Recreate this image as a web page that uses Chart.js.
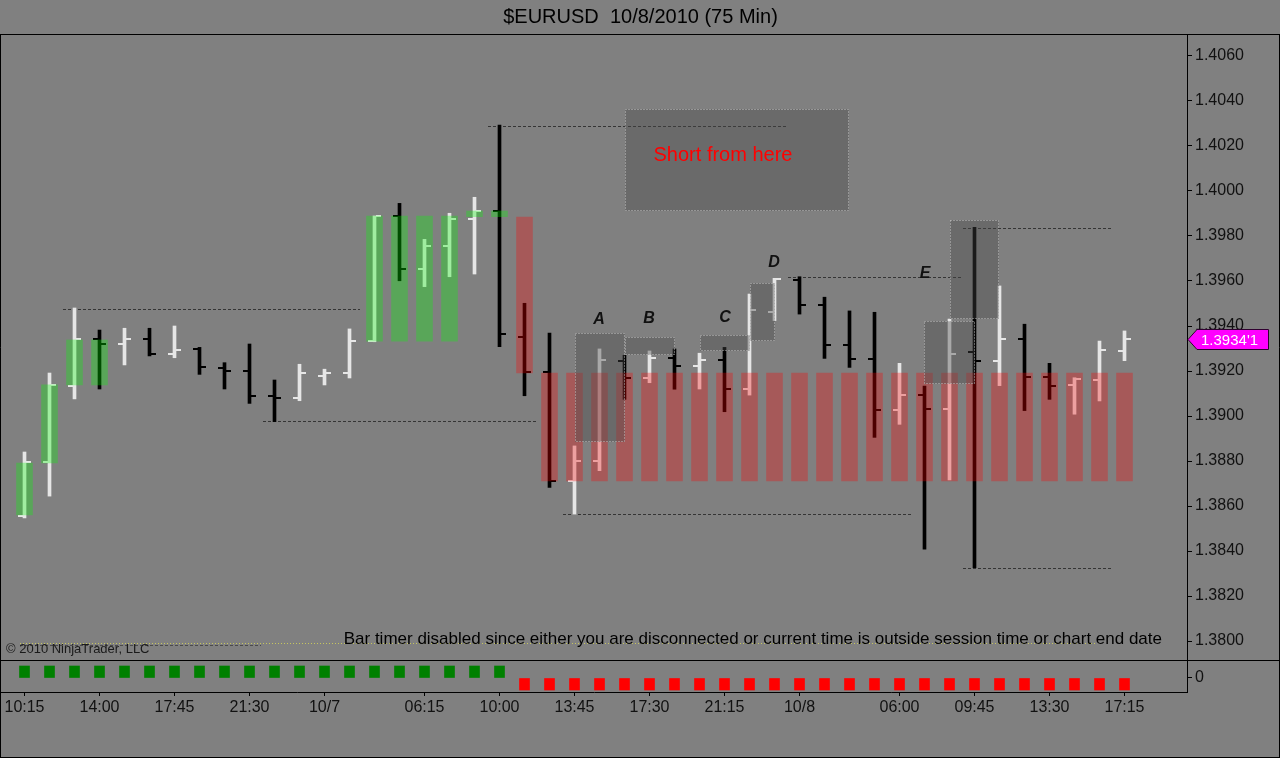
<!DOCTYPE html>
<html lang="en">
<head>
<meta charset="UTF-8">
<title>$EURUSD 10/8/2010 (75 Min)</title>
<style>
html, body { margin: 0; padding: 0; background: #808080; overflow: hidden; }
#page { position: relative; width: 1280px; height: 758px; }
#priceBox { position: absolute; left: 0; top: 0; width: 1280px; height: 661px; }
#signalBox { position: absolute; left: 0; top: 660px; width: 1280px; height: 98px; }
</style>
</head>
<body>
<div id="page">
  <div id="priceBox"><canvas id="priceChart"></canvas></div>
  <div id="signalBox"><canvas id="signalChart"></canvas></div>
</div>
<script src="https://cdn.jsdelivr.net/npm/chart.js@4.4.1/dist/chart.umd.min.js"></script>
<script>
// 75 minute bars, 10/6 10:15 .. 10/8 17:15
const categories = ['10:15','11:30','12:45','14:00','15:15','16:30','17:45','19:00','20:15','21:30',
  '22:45','00:00','01:15','02:30','03:45','05:00','06:15','07:30','08:45','10:00',
  '11:15','12:30','13:45','15:00','16:15','17:30','18:45','20:00','21:15','22:30',
  '23:45','01:00','02:15','03:30','04:45','06:00','07:15','08:30','09:45','11:00',
  '12:15','13:30','14:45','16:00','17:15'];
const tickIndex  = [0, 3, 6, 9, 12, 16, 19, 22, 25, 28, 31, 35, 38, 41, 44];
const tickLabels = ['10:15','14:00','17:45','21:30','10/7','06:15','10:00','13:45','17:30','21:15','10/8','06:00','09:45','13:30','17:15'];
const priceTicks = [1.3800, 1.3820, 1.3840, 1.3860, 1.3880, 1.3900, 1.3920, 1.3940, 1.3960, 1.3980, 1.4000, 1.4020, 1.4040, 1.4060];

const opens  = [1.38556,1.38796,1.39133,1.39342,1.39318,1.39342,1.39274,1.39296,1.39215,1.39200,
  1.39089,1.39079,1.39178,1.39190,1.39333,1.39889,1.39652,1.39756,1.39874,1.39911,
  1.39352,1.39194,1.38712,1.38799,1.39244,1.39168,1.39256,1.39224,1.39249,1.39120,
  1.39461,1.39604,1.39492,1.39314,1.39252,1.39025,1.39093,1.39030,1.39283,1.39243,
  1.39342,1.39175,1.39138,1.39160,1.39289];
const highs  = [1.38840,1.39191,1.39480,1.39382,1.39390,1.39390,1.39400,1.39305,1.39237,1.39320,
  1.39160,1.39230,1.39208,1.39387,1.39889,1.39945,1.39785,1.39901,1.39972,1.40293,
  1.39501,1.39368,1.38867,1.39298,1.39270,1.39289,1.39298,1.39279,1.39305,1.39542,
  1.39612,1.39619,1.39528,1.39467,1.39461,1.39234,1.39133,1.39431,1.39839,1.39578,
  1.39408,1.39234,1.39170,1.39333,1.39378];
const lows   = [1.38547,1.38644,1.39076,1.39120,1.39227,1.39267,1.39259,1.39185,1.39120,1.39056,
  1.38975,1.39068,1.39138,1.39169,1.39330,1.39601,1.39575,1.39619,1.39631,1.39308,
  1.39090,1.38683,1.38563,1.38757,1.39074,1.39148,1.39119,1.39120,1.39019,1.39093,
  1.39424,1.39453,1.39256,1.39216,1.38905,1.38963,1.38408,1.38716,1.38326,1.39135,
  1.39024,1.39074,1.39008,1.39067,1.39246];
const closes = [1.38796,1.39138,1.39342,1.39320,1.39342,1.39274,1.39292,1.39219,1.39200,1.39089,
  1.39081,1.39190,1.39190,1.39333,1.39889,1.39652,1.39756,1.39874,1.39911,1.39363,
  1.39194,1.38712,1.38799,1.39249,1.39168,1.39256,1.39224,1.39249,1.39120,1.39471,
  1.39608,1.39492,1.39314,1.39252,1.39025,1.39093,1.39030,1.39274,1.39243,1.39341,
  1.39172,1.39135,1.39163,1.39293,1.39341];

// highlighted zones laid over the bars
const zoneIndex = [0,1,2,3,14,15,16,17,18,19,20,21,22,23,24,25,26,27,28,29,30,31,32,33,34,35,36,37,38,39,40,41,42,43,44];
const zoneLow   = [1.38560,1.38791,1.39138,1.39138,1.39333,1.39333,1.39333,1.39333,1.39886,1.39886,1.39191,
  1.38712,1.38712,1.38712,1.38712,1.38712,1.38712,1.38712,1.38712,1.38712,1.38712,1.38712,1.38712,1.38712,
  1.38712,1.38712,1.38712,1.38712,1.38712,1.38712,1.38712,1.38712,1.38712,1.38712,1.38712];
const zoneHigh  = [1.38791,1.39138,1.39338,1.39338,1.39889,1.39889,1.39889,1.39889,1.39911,1.39911,1.39884,
  1.39191,1.39191,1.39191,1.39191,1.39191,1.39191,1.39191,1.39191,1.39191,1.39191,1.39191,1.39191,1.39191,
  1.39191,1.39191,1.39191,1.39191,1.39191,1.39191,1.39191,1.39191,1.39191,1.39191,1.39191];
const zoneLong  = [true,true,true,true,true,true,true,true,true,true,false,
  false,false,false,false,false,false,false,false,false,false,false,false,false,
  false,false,false,false,false,false,false,false,false,false,false];

// lower panel signal
const signal = [1,1,1,1,1,1,1,1,1,1,1,1,1,1,1,1,1,1,1,1,
  -1,-1,-1,-1,-1,-1,-1,-1,-1,-1,-1,-1,-1,-1,-1,-1,-1,-1,-1,-1,-1,-1,-1,-1,-1];

// drawn levels (bar index from / to, price)
const levelFrom  = [1.54, 9.54, 18.54, 21.54, 30.54, 37.54, 37.54];
const levelTo    = [13.42, 20.46, 30.46, 35.46, 37.46, 43.46, 43.46];
const levelPrice = [1.39476, 1.38978, 1.40289, 1.38564, 1.39618, 1.39836, 1.38324];

// drawn boxes (bar index from / to, top, bottom)
const boxFrom   = [24, 22, 24, 27, 29, 36, 37];
const boxTo     = [33, 24, 26, 29, 30, 38, 39];
const boxTop    = [1.40364, 1.39369, 1.39351, 1.39360, 1.39591, 1.39422, 1.39871];
const boxBottom = [1.39911, 1.38884, 1.39271, 1.39289, 1.39333, 1.39142, 1.39431];

const markText = ['A', 'B', 'C', 'D', 'E'];
const markX    = [22.98, 24.98, 28.02, 29.98, 36.02];
const markY    = [1.39427, 1.39431, 1.39436, 1.39680, 1.39631];

const noteText = 'Short from here';
const noteX = 27.94, noteY = 1.40160;

const X_MIN = -0.94, X_MAX = 46.5;
const UP = '#e6e6e6', DOWN = '#000000';
const FONT = "Arial, 'Liberation Sans', sans-serif";
Chart.defaults.font.family = FONT;

const barColors = closes.map((c, i) => c >= opens[i] ? UP : DOWN);

function framePlugin(bottomLine) {
  return {
    id: 'frame',
    afterDraw(chart) {
      const ctx = chart.ctx, w = chart.width, h = chart.height;
      ctx.save();
      ctx.strokeStyle = '#000';
      ctx.lineWidth = 1;
      ctx.beginPath();
      ctx.moveTo(0.5, bottomLine ? 0 : 34.5); ctx.lineTo(0.5, h);
      ctx.moveTo(w - 0.5, bottomLine ? 0 : 34.5); ctx.lineTo(w - 0.5, h);
      if (bottomLine) { ctx.moveTo(0, h - 0.5); ctx.lineTo(w, h - 0.5); }
      else {
        ctx.moveTo(0, 34.5); ctx.lineTo(w, 34.5);
        ctx.moveTo(0, h - 0.5); ctx.lineTo(w, h - 0.5);
      }
      ctx.stroke();
      ctx.restore();
    }
  };
}

const priceExtras = {
  id: 'priceExtras',
  beforeDatasetsDraw(chart) {
    const ctx = chart.ctx, xs = chart.scales.x, ys = chart.scales.y, a = chart.chartArea;
    ctx.save();
    ctx.beginPath(); ctx.rect(a.left, a.top, a.right - a.left, a.bottom - a.top); ctx.clip();
    ctx.lineWidth = 1;
    ctx.strokeStyle = 'rgba(40,40,40,0.85)';
    ctx.setLineDash([3, 2]);
    levelPrice.forEach((p, k) => {
      const y = Math.round(ys.getPixelForValue(p)) + 0.5;
      ctx.beginPath();
      ctx.moveTo(xs.getPixelForValue(levelFrom[k]), y);
      ctx.lineTo(xs.getPixelForValue(levelTo[k]), y);
      ctx.stroke();
    });
    // bar timer baseline
    ctx.strokeStyle = 'rgba(60,60,60,0.8)';
    let y = Math.round(ys.getPixelForValue(1.37982)) + 0.5;
    ctx.beginPath(); ctx.moveTo(xs.getPixelForValue(-0.18), y); ctx.lineTo(xs.getPixelForValue(9.46), y); ctx.stroke();
    ctx.strokeStyle = 'rgba(205,205,90,0.9)';
    ctx.setLineDash([1, 2]);
    y = Math.round(ys.getPixelForValue(1.37993)) + 0.5;
    ctx.beginPath(); ctx.moveTo(xs.getPixelForValue(-0.18), y); ctx.lineTo(xs.getPixelForValue(42.9), y); ctx.stroke();
    ctx.restore();
  },
  afterDatasetDraw(chart, args) {
    if (args.index !== 0) return;
    // open tick left, close tick right
    const ctx = chart.ctx, xs = chart.scales.x, ys = chart.scales.y;
    ctx.save();
    opens.forEach((o, i) => {
      const x = xs.getPixelForValue(i);
      const yo = Math.round(ys.getPixelForValue(o));
      const yc = Math.round(ys.getPixelForValue(closes[i]));
      ctx.fillStyle = barColors[i];
      ctx.fillRect(x - 1.5 - 5, yo - 1, 5, 2);
      ctx.fillRect(x + 1.5, yc - 1, 5, 2);
    });
    ctx.restore();
  },
  afterDatasetsDraw(chart) {
    const ctx = chart.ctx, xs = chart.scales.x, ys = chart.scales.y;
    ctx.save();
    boxFrom.forEach((f, k) => {
      const x1 = Math.round(xs.getPixelForValue(f)), x2 = Math.round(xs.getPixelForValue(boxTo[k]));
      const y1 = Math.round(ys.getPixelForValue(boxTop[k])), y2 = Math.round(ys.getPixelForValue(boxBottom[k]));
      ctx.fillStyle = 'rgba(70,70,70,0.38)';
      ctx.fillRect(x1, y1, x2 - x1, y2 - y1);
      ctx.setLineDash([1, 2]);
      ctx.lineWidth = 1;
      ctx.strokeStyle = 'rgba(215,215,215,0.8)';
      ctx.strokeRect(x1 + 0.5, y1 + 0.5, x2 - x1 - 1, y2 - y1 - 1);
    });
    ctx.setLineDash([]);
    ctx.textAlign = 'center';
    ctx.textBaseline = 'middle';
    ctx.fillStyle = '#111';
    ctx.font = 'bold italic 16px ' + FONT;
    markText.forEach((t, k) => ctx.fillText(t, xs.getPixelForValue(markX[k]), ys.getPixelForValue(markY[k])));
    ctx.fillStyle = '#ff0000';
    ctx.font = '20px ' + FONT;
    ctx.fillText(noteText, xs.getPixelForValue(noteX), ys.getPixelForValue(noteY));
    ctx.restore();
  },
  afterDraw(chart) {
    const ctx = chart.ctx, ys = chart.scales.y, a = chart.chartArea;
    ctx.save();
    ctx.textBaseline = 'middle';
    ctx.fillStyle = '#1a1a1a';
    ctx.font = '13px ' + FONT;
    ctx.textAlign = 'left';
    ctx.fillText('\u00a9 2010 NinjaTrader, LLC', 6, 649);
    ctx.fillStyle = '#000';
    ctx.font = '17px ' + FONT;
    ctx.textAlign = 'right';
    ctx.fillText('Bar timer disabled since either you are disconnected or current time is outside session time or chart end date', 1162, 639);
    // last price marker
    const last = closes[closes.length - 1];
    const y = Math.round(ys.getPixelForValue(last)) + 0.5;
    const x0 = a.right + 1;
    ctx.beginPath();
    ctx.moveTo(x0, y);
    ctx.lineTo(x0 + 9, y - 10);
    ctx.lineTo(1268.5, y - 10);
    ctx.lineTo(1268.5, y + 10);
    ctx.lineTo(x0 + 9, y + 10);
    ctx.closePath();
    ctx.fillStyle = '#ff00ff';
    ctx.fill();
    ctx.strokeStyle = '#300030';
    ctx.lineWidth = 1;
    ctx.stroke();
    const s = last.toFixed(5);
    ctx.fillStyle = '#ffffff';
    ctx.font = '15px ' + FONT;
    ctx.textAlign = 'left';
    ctx.fillText(s.slice(0, -1) + "'" + s.slice(-1), x0 + 13, y + 1);
    ctx.restore();
  }
};

// keep label overflow from shrinking the plot area
const noPadY = s => { s.width = 93; s.paddingTop = 0; s.paddingBottom = 0; };

new Chart(document.getElementById('priceChart'), {
  type: 'bar',
  data: {
    datasets: [
      {
        label: 'OHLC',
        data: opens.map((o, i) => ({ x: i, y: [lows[i], highs[i]] })),
        backgroundColor: barColors,
        barThickness: 3,
        grouped: false,
        order: 2
      },
      {
        label: 'Zones',
        data: zoneIndex.map((i, k) => ({ x: i, y: [zoneLow[k], zoneHigh[k]] })),
        backgroundColor: zoneLong.map(l => l ? 'rgba(0,255,0,0.3)' : 'rgba(255,0,0,0.3)'),
        barThickness: 16,
        grouped: false,
        order: 1
      }
    ]
  },
  options: {
    responsive: true,
    maintainAspectRatio: false,
    devicePixelRatio: 1,
    animation: false,
    events: [],
    layout: { padding: { left: 1, right: 0, top: 0, bottom: 1 } },
    plugins: {
      legend: { display: false },
      tooltip: { enabled: false },
      title: {
        display: true,
        text: '$EURUSD  10/8/2010 (75 Min)',
        color: '#000',
        font: { size: 20, weight: 'normal' },
        padding: { top: 5, bottom: 6 }
      }
    },
    scales: {
      x: { type: 'linear', min: X_MIN, max: X_MAX, bounds: 'data', offset: false, display: false },
      y: {
        type: 'linear',
        position: 'right',
        min: 1.379156,
        max: 1.406933,
        bounds: 'data',
        offset: false,
        beginAtZero: false,
        afterBuildTicks: s => { s.ticks = priceTicks.map(v => ({ value: v })); },
        afterFit: noPadY,
        ticks: { color: '#111', font: { size: 16 }, padding: 3, callback: v => v.toFixed(4) },
        grid: { drawOnChartArea: false, tickLength: 5, color: '#000' },
        border: { display: true, color: '#000' }
      }
    }
  },
  plugins: [priceExtras, framePlugin(false)]
});

new Chart(document.getElementById('signalChart'), {
  type: 'bar',
  data: {
    datasets: [{
      label: 'Signal',
      data: signal.map((v, i) => ({ x: i, y: v })),
      backgroundColor: signal.map(v => v > 0 ? '#008000' : '#ff0000'),
      barThickness: 10,
      grouped: false
    }]
  },
  options: {
    responsive: true,
    maintainAspectRatio: false,
    devicePixelRatio: 1,
    animation: false,
    events: [],
    layout: { padding: { left: 1, right: 0, top: 1, bottom: 0 } },
    plugins: { legend: { display: false }, tooltip: { enabled: false } },
    scales: {
      x: {
        type: 'linear',
        min: X_MIN,
        max: X_MAX,
        bounds: 'data',
        offset: false,
        afterBuildTicks: s => { s.ticks = tickIndex.map(v => ({ value: v })); },
        afterFit: s => { s.height = 66; s.paddingLeft = 0; s.paddingRight = 0; },
        ticks: {
          autoSkip: false, maxRotation: 0, color: '#111', font: { size: 16 }, padding: 2,
          callback: v => { const k = tickIndex.indexOf(v); return k < 0 ? '' : tickLabels[k]; }
        },
        grid: { drawOnChartArea: false, offset: false, tickLength: 4, color: '#000' },
        border: { display: true, color: '#000' }
      },
      y: {
        type: 'linear',
        position: 'right',
        min: -1.167,
        max: 1.417,
        bounds: 'data',
        offset: false,
        beginAtZero: false,
        afterBuildTicks: s => { s.ticks = [{ value: 0 }]; },
        afterFit: noPadY,
        ticks: { color: '#111', font: { size: 16 }, padding: 3, callback: () => '0' },
        grid: { drawOnChartArea: false, tickLength: 5, color: '#000' },
        border: { display: true, color: '#000' }
      }
    }
  },
  plugins: [framePlugin(true)]
});
</script>
</body>
</html>
